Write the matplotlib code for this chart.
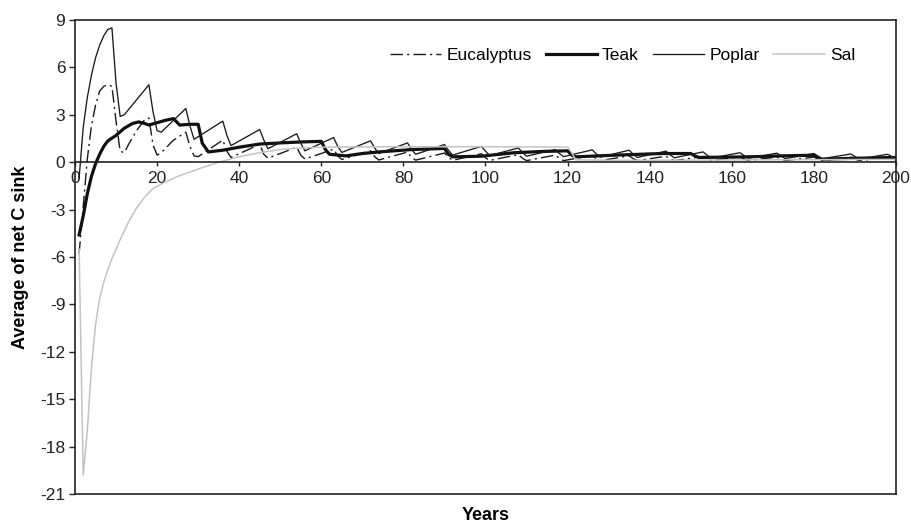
import matplotlib
matplotlib.use("Agg")
import matplotlib.pyplot as plt

plt.rcParams['font.family'] = ['Liberation Sans', 'DejaVu Sans']
plt.rcParams['axes.unicode_minus'] = False

# ---------------- data ----------------
euc_years = [1, 2, 3, 4, 5, 6, 7, 8, 9, 10, 11, 12, 13, 15, 17, 18, 19, 20, 21, 24, 27, 28, 29, 30,
             36, 37, 38, 45, 46, 47, 54, 55, 56, 63, 64, 65, 72, 73, 74, 81, 82, 83, 90, 91, 92,
             99, 100, 101, 108, 109, 110, 117, 118, 119, 126, 127, 128, 135, 136, 137, 144, 145, 146,
             153, 154, 155, 162, 163, 164, 171, 172, 173, 180, 181, 182, 189, 190, 191, 198, 199, 200]
euc_vals = [-5.8, -2.8, 0.2, 2.3, 3.6, 4.5, 4.8, 4.9, 4.8, 2.6, 0.7, 0.6, 1.1, 2.0, 2.7, 2.8, 1.1, 0.45, 0.6, 1.4, 1.9, 1.0, 0.4, 0.35,
            1.4, 0.7, 0.3, 1.13, 0.5, 0.25, 0.95, 0.45, 0.2, 0.82, 0.4, 0.17, 0.72, 0.35, 0.14, 0.64, 0.3, 0.13, 0.58, 0.3, 0.12,
            0.53, 0.28, 0.11, 0.48, 0.25, 0.1, 0.45, 0.25, 0.1, 0.42, 0.22, 0.1, 0.4, 0.22, 0.1, 0.38, 0.2, 0.1,
            0.36, 0.2, 0.1, 0.34, 0.2, 0.1, 0.33, 0.2, 0.1, 0.32, 0.2, 0.1, 0.31, 0.2, 0.1, 0.3, 0.2, 0.12]

teak_years = [1, 2, 3, 4, 5, 6, 7, 8, 10, 12, 14, 15.5, 17, 18, 20, 22, 24, 25.5, 28, 30, 31, 32.5,
              36, 40, 45, 50, 55, 60, 61, 62, 66, 70, 74, 82, 90, 91, 92, 99, 107, 114, 120, 121, 122,
              131, 143, 150, 151, 152, 164, 172, 180, 181, 182, 190, 200]
teak_vals = [-4.6, -3.4, -2.0, -0.9, -0.1, 0.5, 1.0, 1.35, 1.7, 2.15, 2.45, 2.55, 2.45, 2.35, 2.5, 2.65, 2.76, 2.35, 2.4, 2.4, 1.2, 0.65,
             0.76, 0.95, 1.15, 1.22, 1.28, 1.32, 0.8, 0.5, 0.4, 0.55, 0.65, 0.8, 0.87, 0.5, 0.34, 0.38, 0.6, 0.68, 0.72, 0.45, 0.34,
             0.44, 0.55, 0.55, 0.4, 0.3, 0.34, 0.4, 0.44, 0.3, 0.19, 0.25, 0.3]

poplar_years = [1, 2, 3, 4, 5, 6, 7, 8, 9, 10, 11, 12, 18, 19, 20, 21, 27, 28, 29, 36, 37, 38, 45, 46, 47,
                54, 55, 56, 63, 64, 65, 72, 73, 74, 81, 82, 83, 90, 91, 92, 99, 100, 101, 108, 109, 110,
                117, 118, 119, 126, 127, 128, 135, 136, 137, 144, 145, 146, 153, 154, 155, 162, 163, 164,
                171, 172, 173, 180, 181, 182, 189, 190, 191, 198, 199, 200]
poplar_vals = [-1.0, 2.2, 4.1, 5.5, 6.6, 7.4, 8.0, 8.4, 8.5, 5.0, 2.9, 3.0, 4.9, 3.2, 2.0, 1.9, 3.4, 2.3, 1.45, 2.6, 1.7, 1.05, 2.07, 1.4, 0.85,
               1.8, 1.2, 0.72, 1.56, 1.0, 0.62, 1.35, 0.9, 0.55, 1.22, 0.8, 0.5, 1.12, 0.75, 0.45, 1.0, 0.7, 0.42, 0.9, 0.62, 0.38,
               0.8, 0.55, 0.35, 0.78, 0.52, 0.32, 0.76, 0.5, 0.3, 0.7, 0.46, 0.28, 0.65, 0.44, 0.26, 0.6, 0.42, 0.25,
               0.57, 0.4, 0.23, 0.55, 0.38, 0.22, 0.52, 0.36, 0.21, 0.5, 0.35, 0.3]

sal_years = [1, 2, 3, 4, 5, 6, 7, 8, 9, 10, 11, 13, 15, 17, 19, 22, 25, 28, 31, 35, 40, 45, 50, 55, 60,
             70, 80, 90, 100, 110, 120, 121, 122, 130, 140, 150, 160, 170, 180, 190, 200]
sal_vals = [-5.5, -19.8, -17.0, -13.0, -10.3, -8.6, -7.6, -6.8, -6.1, -5.5, -4.9, -3.8, -2.9, -2.2, -1.67, -1.25, -0.9, -0.62, -0.35, 0.0,
            0.35, 0.6, 0.8, 0.9, 0.95, 0.97, 0.98, 0.98, 0.98, 0.97, 0.96, 0.6, 0.15, 0.12, 0.12, 0.13, 0.14, 0.15, 0.16, 0.17, 0.18]

series_names = ["Eucalyptus", "Teak", "Poplar", "Sal"]
x_ticks = [0, 20, 40, 60, 80, 100, 120, 140, 160, 180, 200]
y_ticks = [-21, -18, -15, -12, -9, -6, -3, 0, 3, 6, 9]

# ---------------- figure ----------------
fig = plt.figure(figsize=(9.12, 5.27), dpi=100)
ax = fig.add_axes([75 / 912, 1 - 494 / 527, (896 - 75) / 912, (494 - 20) / 527])

ax.plot(euc_years, euc_vals, color='#1a1a1a', lw=1.0, linestyle=(0, (9, 3, 1.5, 3)), label=series_names[0])
ax.plot(teak_years, teak_vals, color='#111111', lw=2.3, label=series_names[1])
ax.plot(poplar_years, poplar_vals, color='#1a1a1a', lw=0.95, label=series_names[2])
ax.plot(sal_years, sal_vals, color='#c3c3c3', lw=1.1, label=series_names[3])

ax.set_xlim(x_ticks[0], x_ticks[-1])
ax.set_ylim(y_ticks[0], y_ticks[-1])

# x axis crossing at 0, frame kept around
ax.spines['bottom'].set_position(('data', 0))
ax.axhline(y_ticks[0], color='#222222', lw=1.2, clip_on=False, zorder=5)
for s in ['left', 'right', 'top', 'bottom']:
    ax.spines[s].set_color('#222222')
    ax.spines[s].set_linewidth(1.2)

ax.set_xticks(x_ticks)
ax.set_yticks(y_ticks)
ax.tick_params(axis='x', direction='out', length=3, width=1, labelsize=12.5, pad=3, colors='#222222')
ax.tick_params(axis='y', direction='out', length=4, width=1, labelsize=12.5, pad=3, colors='#222222')
for lbl in ax.get_xticklabels() + ax.get_yticklabels():
    lbl.set_color('#222222')

ax.set_ylabel("Average of net C sink", fontsize=13, fontweight='bold', labelpad=8)
fig.text((75 + 896) / 2 / 912, 1 - 516 / 527, "Years", ha='center', va='center',
         fontsize=13, fontweight='bold')

leg = ax.legend(loc='center right', bbox_to_anchor=(0.9586, 0.926), ncol=4, frameon=False,
                fontsize=12.5, handlelength=2.95, handletextpad=0.3, columnspacing=0.8,
                borderaxespad=0)

fig.savefig("out.png", dpi=100)
